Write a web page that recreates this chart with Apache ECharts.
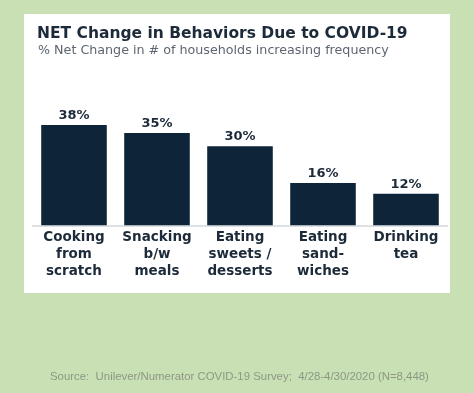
<!DOCTYPE html>
<html>
<head>
<meta charset="utf-8">
<script src="https://cdn.jsdelivr.net/npm/echarts@6/dist/echarts.min.js"></script>
<style>
html,body{margin:0;padding:0;background:#c9e0b5;}
#main{width:474px;height:393px;}
</style>
</head>
<body>
<div id="main"></div>
<script>
const titleText = "NET Change in Behaviors Due to COVID-19";
const subtitleText = "% Net Change in # of households increasing frequency";
const sourceText = "Source:  Unilever/Numerator COVID-19 Survey;  4/28-4/30/2020 (N=8,448)";
const categories = ["Cooking\nfrom\nscratch", "Snacking\nb/w\nmeals", "Eating\nsweets /\ndesserts", "Eating\nsand-\nwiches", "Drinking\ntea"];
const values = [38, 35, 30, 16, 12];

const chart = echarts.init(document.getElementById('main'));
chart.setOption({
  backgroundColor: '#c9e0b5',
  animation: false,
  graphic: [
    {type:'rect', left:24, top:14, shape:{width:426, height:279}, style:{fill:'#ffffff'}, z:-10},
    {type:'text', left:37, top:26, style:{text:titleText, font:'bold 15.5px "DejaVu Sans"', fill:'#1c2a39'}},
    {type:'text', left:38, top:44, style:{text:subtitleText, font:'12.7px "DejaVu Sans"', fill:'#5d6670'}},
    {type:'text', left:50, top:371, style:{text:sourceText, font:'11.4px "Liberation Sans"', fill:'#8c9784'}}
  ],
  grid: {left:32.5, right:26.5, top:119.8, bottom:167.7, containLabel:false},
  xAxis: {
    type:'category', data:categories,
    axisLine:{show:true, lineStyle:{color:'#d3d7da', width:1.5}},
    axisTick:{show:false},
    axisLabel:{interval:0, margin:4, fontSize:13.5, fontWeight:'bold', fontFamily:'DejaVu Sans', color:'#1c2a39', lineHeight:17, align:'center'}
  },
  yAxis: {type:'value', min:0, max:40, show:false, splitLine:{show:false}},
  series: [{
    type:'bar', data:values, barCategoryGap:'21%',
    itemStyle:{color:'#0e2439'},
    label:{show:true, position:'top', distance:3, formatter:'{c}%', fontSize:13, fontWeight:'bold', fontFamily:'DejaVu Sans', color:'#1c2a39'}
  }]
});
</script>
</body>
</html>
